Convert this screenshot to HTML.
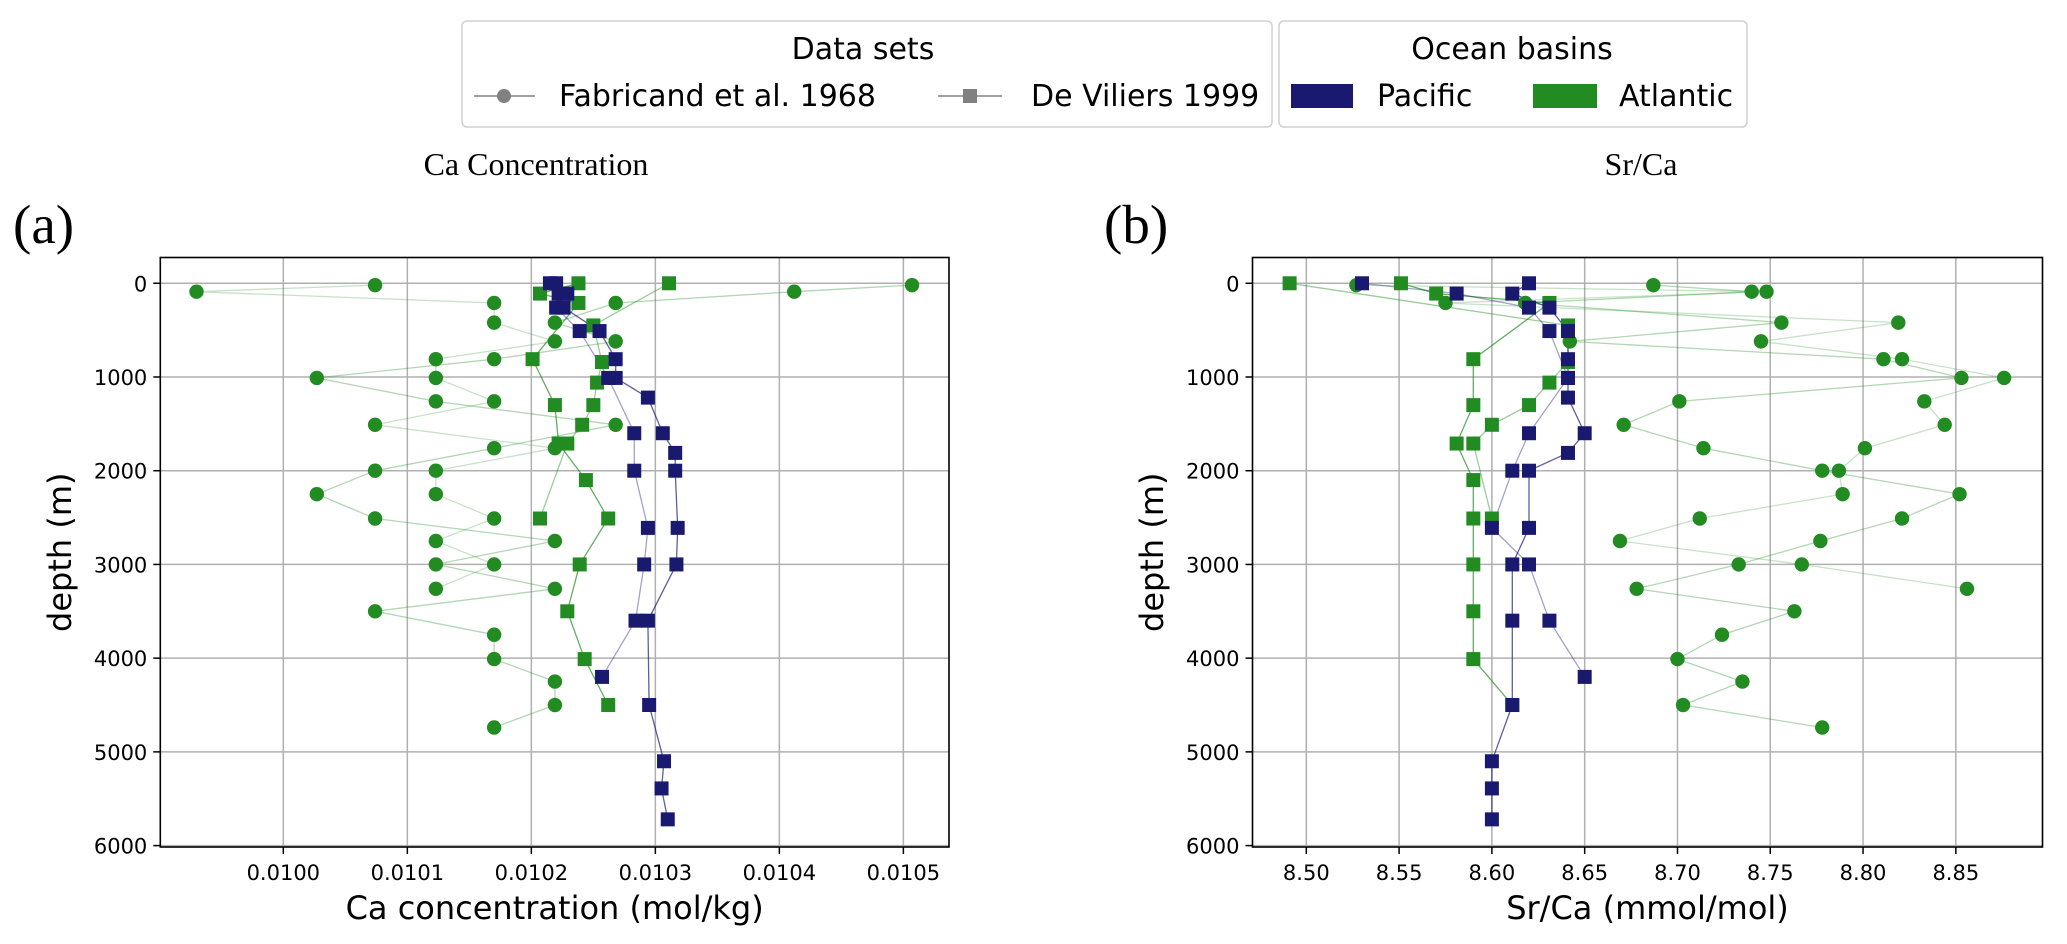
<!DOCTYPE html>
<html><head><meta charset="utf-8">
<style>
html,body{margin:0;padding:0;background:#fff;}
svg{display:block;}
text{font-family:"DejaVu Sans","Liberation Sans",sans-serif;fill:#000;}
.serif{font-family:"Liberation Serif",serif;}
</style></head>
<body>
<svg id="fig" width="2067" height="944" viewBox="0 0 2067 944" xmlns="http://www.w3.org/2000/svg">
  <g>
    <rect x="462" y="21" width="810" height="106" rx="5" fill="#fff" stroke="#d0d0d0" stroke-width="1.5"/>
    <text x="863" y="59" font-size="30" text-anchor="middle">Data sets</text>
    <g>
      <line x1="474" y1="96" x2="535" y2="96" stroke="#808080" stroke-width="1.5"/>
      <circle cx="504" cy="96" r="7" fill="#808080"/>
      <text x="559" y="106" font-size="30">Fabricand et al. 1968</text>
    </g>
    <g>
      <line x1="938" y1="96" x2="1002" y2="96" stroke="#808080" stroke-width="1.5"/>
      <rect x="963" y="89" width="14" height="14" fill="#808080"/>
      <text x="1031" y="106" font-size="30">De Viliers 1999</text>
    </g>
  </g>
  <g>
    <rect x="1279" y="21" width="468" height="106" rx="5" fill="#fff" stroke="#d0d0d0" stroke-width="1.5"/>
    <text x="1512" y="59" font-size="30" text-anchor="middle">Ocean basins</text>
    <g>
      <rect x="1291" y="84" width="62" height="24" fill="#191970"/>
      <text x="1377" y="106" font-size="30">Pacific</text>
    </g>
    <g>
      <rect x="1533" y="84" width="64" height="24" fill="#228B22"/>
      <text x="1619" y="106" font-size="30">Atlantic</text>
    </g>
  </g>
  <text class="serif" x="536" y="175" font-size="32" text-anchor="middle">Ca Concentration</text>
  <text class="serif" x="1641" y="175" font-size="32" text-anchor="middle">Sr/Ca</text>
  <text class="serif" x="13" y="243" font-size="55">(a)</text>
  <text class="serif" x="1104" y="243" font-size="55">(b)</text>
  <g id="panelA"></g>
  <g id="panelB"></g>
</svg>
<script>
const depthTicks = [0, 1000, 2000, 3000, 4000, 5000, 6000];

const caTicks = [0.0100, 0.0101, 0.0102, 0.0103, 0.0104, 0.0105];
const caTickLabels = ["0.0100", "0.0101", "0.0102", "0.0103", "0.0104", "0.0105"];
const fabA1Depth = [20,90,210,420,620,810,1010,1260,1510,1760,2000,2250,2510,2750,3000,3260,3500,3750,4010,4250,4500,4740];
const fabA1Ca = [0.010507,0.010412,0.010268,0.010219,0.010268,0.010170,0.010027,0.010123,0.010268,0.010170,0.010074,0.010027,0.010074,0.010219,0.010123,0.010219,0.010074,0.010170,0.010170,0.010219,0.010219,0.010170];
const fabA2Depth = [20,90,210,420,620,810,1010,1260,1510,1760,2000,2250,2510,2750,3000,3260];
const fabA2Ca = [0.010074,0.009930,0.010170,0.010170,0.010219,0.010123,0.010123,0.010170,0.010074,0.010219,0.010123,0.010123,0.010170,0.010123,0.010170,0.010123];
const dvA1Depth = [0,110,210,810,1300,1710,2100,2510,3000,3500,4010,4500];
const dvA1Ca = [0.010238,0.010207,0.010238,0.010201,0.010219,0.010222,0.010244,0.010262,0.010239,0.010229,0.010243,0.010262];
const dvA2Depth = [0,450,840,1060,1300,1510,1710,2510];
const dvA2Ca = [0.010311,0.010250,0.010257,0.010253,0.010250,0.010241,0.010229,0.010207];
const dvP1Depth = [0,110,260,510,810,1010,1220,1600,1810,2000,2610,3000,3600,4500,5100,5390,5720];
const dvP1Ca = [0.010220,0.010229,0.010226,0.010255,0.010268,0.010268,0.010294,0.010306,0.010316,0.010316,0.010318,0.010317,0.010294,0.010295,0.010307,0.010305,0.010310];
const dvP2Depth = [0,110,260,510,1010,1600,2000,2610,3000,3600,4200];
const dvP2Ca = [0.010215,0.010222,0.010220,0.010239,0.010262,0.010283,0.010283,0.010294,0.010291,0.010284,0.010257];

const srTicks = [8.50, 8.55, 8.60, 8.65, 8.70, 8.75, 8.80, 8.85];
const srTickLabels = ["8.50", "8.55", "8.60", "8.65", "8.70", "8.75", "8.80", "8.85"];
const fabA1Sr = [8.687,8.740,8.618,8.756,8.642,8.811,8.853,8.701,8.671,8.714,8.778,8.852,8.821,8.777,8.733,8.678,8.763,8.724,8.700,8.735,8.703,8.778];
const fabA2Sr = [8.527,8.748,8.575,8.819,8.745,8.821,8.876,8.833,8.844,8.801,8.787,8.789,8.712,8.669,8.767,8.856];
const dvA1Sr = [8.551,8.570,8.631,8.590,8.590,8.581,8.590,8.590,8.590,8.590,8.590,8.611];
const dvA2Sr = [8.491,8.641,8.641,8.631,8.620,8.600,8.590,8.600];
const dvP1Sr = [8.620,8.611,8.631,8.641,8.641,8.641,8.641,8.650,8.641,8.620,8.620,8.611,8.611,8.611,8.600,8.600,8.600];
const dvP2Sr = [8.530,8.581,8.620,8.631,8.641,8.620,8.611,8.600,8.620,8.631,8.650];

const NS = "http://www.w3.org/2000/svg";
const GREEN = "#228B22", NAVY = "#191970";

function mk(tag, attrs, parent) {
  const e = document.createElementNS(NS, tag);
  for (const k in attrs) e.setAttribute(k, attrs[k]);
  if (parent) parent.appendChild(e);
  return e;
}

function drawPanel(g, cfg) {
  const L = cfg.left, R = cfg.right, T = 257.5, B = 847;
  const yDomain = [-275, 6015];
  const sx = v => L + (v - cfg.xDomain[0]) / (cfg.xDomain[1] - cfg.xDomain[0]) * (R - L);
  const sy = d => T + (d - yDomain[0]) / (yDomain[1] - yDomain[0]) * (B - T);

  const grid = mk("g", {}, g);
  
  
  cfg.xTicks.forEach((t, i) => {
    const x = sx(t);
    const gl = mk("line", {x1: x, x2: x, y1: T, y2: B, stroke: "#b0b0b0", "stroke-width": 1.5}, grid);
    
    
    const tk = mk("line", {x1: x, x2: x, y1: B, y2: B + 7, stroke: "#000", "stroke-width": 1.5}, g);
    
    
    const tl = mk("text", {x: x, y: B + 33, "font-size": 21, "text-anchor": "middle"}, g);
    
    
    tl.textContent = cfg.xTickLabels[i];
  });
  depthTicks.forEach(t => {
    const y = sy(t);
    const gl = mk("line", {x1: L, x2: R, y1: y, y2: y, stroke: "#b0b0b0", "stroke-width": 1.5}, grid);
    
    
    const tk = mk("line", {x1: L - 7, x2: L, y1: y, y2: y, stroke: "#000", "stroke-width": 1.5}, g);
    
    
    const tl = mk("text", {x: L - 13, y: y + 8, "font-size": 21, "text-anchor": "end"}, g);
    
    
    tl.textContent = String(t);
  });

  const series = cfg.series;
  series.forEach(s => {
    const pts = s.depth.map((d, i) => sx(s.vals[i]).toFixed(1) + "," + sy(d).toFixed(1)).join(" ");
    const pl = mk("polyline", {points: pts, fill: "none", stroke: s.color, "stroke-width": 1.3, "stroke-opacity": s.lineAlpha}, g);
    
    
  });
  series.forEach(s => {
    const mg = mk("g", {fill: s.color}, g);
    
    
    s.depth.forEach((d, i) => {
      const x = sx(s.vals[i]), y = sy(d);
      let m;
      if (s.marker === "circle") m = mk("circle", {cx: x, cy: y, r: 7.2}, mg);
      else m = mk("rect", {x: x - 7, y: y - 7, width: 14, height: 14}, mg);
      
      
    });
  });

  const frame = mk("rect", {x: L, y: T, width: R - L, height: B - T, fill: "none", stroke: "#000", "stroke-width": 1.6}, g);
  
  

  const xl = mk("text", {x: (L + R) / 2, y: 919, "font-size": 32, "text-anchor": "middle"}, g);
  
  
  xl.textContent = cfg.xLabel;
  const yl = mk("text", {x: 0, y: 0, "font-size": 32, "text-anchor": "middle", transform: "translate(" + cfg.yLabelX + "," + ((T + B) / 2) + ") rotate(-90)"}, g);
  
  
  yl.textContent = "depth (m)";
}

drawPanel(document.getElementById("panelA"), {
  left: 160.3, right: 949, xDomain: [0.0099008, 0.0105368],
  xTicks: caTicks, xTickLabels: caTickLabels,
  xLabel: "Ca concentration (mol/kg)", yLabelX: 71,
  series: [
    {name: "fabricand-atlantic-1", depth: fabA1Depth, vals: fabA1Ca, color: GREEN, marker: "circle", lineAlpha: 0.35},
    {name: "fabricand-atlantic-2", depth: fabA2Depth, vals: fabA2Ca, color: GREEN, marker: "circle", lineAlpha: 0.25},
    {name: "deviliers-atlantic-1", depth: dvA1Depth, vals: dvA1Ca, color: GREEN, marker: "square", lineAlpha: 0.7},
    {name: "deviliers-atlantic-2", depth: dvA2Depth, vals: dvA2Ca, color: GREEN, marker: "square", lineAlpha: 0.45},
    {name: "deviliers-pacific-1", depth: dvP1Depth, vals: dvP1Ca, color: NAVY, marker: "square", lineAlpha: 0.7},
    {name: "deviliers-pacific-2", depth: dvP2Depth, vals: dvP2Ca, color: NAVY, marker: "square", lineAlpha: 0.4}
  ]
});

drawPanel(document.getElementById("panelB"), {
  left: 1252.5, right: 2042.5, xDomain: [8.471, 8.8967],
  xTicks: srTicks, xTickLabels: srTickLabels,
  xLabel: "Sr/Ca (mmol/mol)", yLabelX: 1163,
  series: [
    {name: "fabricand-atlantic-1", depth: fabA1Depth, vals: fabA1Sr, color: GREEN, marker: "circle", lineAlpha: 0.35},
    {name: "fabricand-atlantic-2", depth: fabA2Depth, vals: fabA2Sr, color: GREEN, marker: "circle", lineAlpha: 0.25},
    {name: "deviliers-atlantic-1", depth: dvA1Depth, vals: dvA1Sr, color: GREEN, marker: "square", lineAlpha: 0.7},
    {name: "deviliers-atlantic-2", depth: dvA2Depth, vals: dvA2Sr, color: GREEN, marker: "square", lineAlpha: 0.45},
    {name: "deviliers-pacific-1", depth: dvP1Depth, vals: dvP1Sr, color: NAVY, marker: "square", lineAlpha: 0.7},
    {name: "deviliers-pacific-2", depth: dvP2Depth, vals: dvP2Sr, color: NAVY, marker: "square", lineAlpha: 0.4}
  ]
});
</script>
</body></html>
